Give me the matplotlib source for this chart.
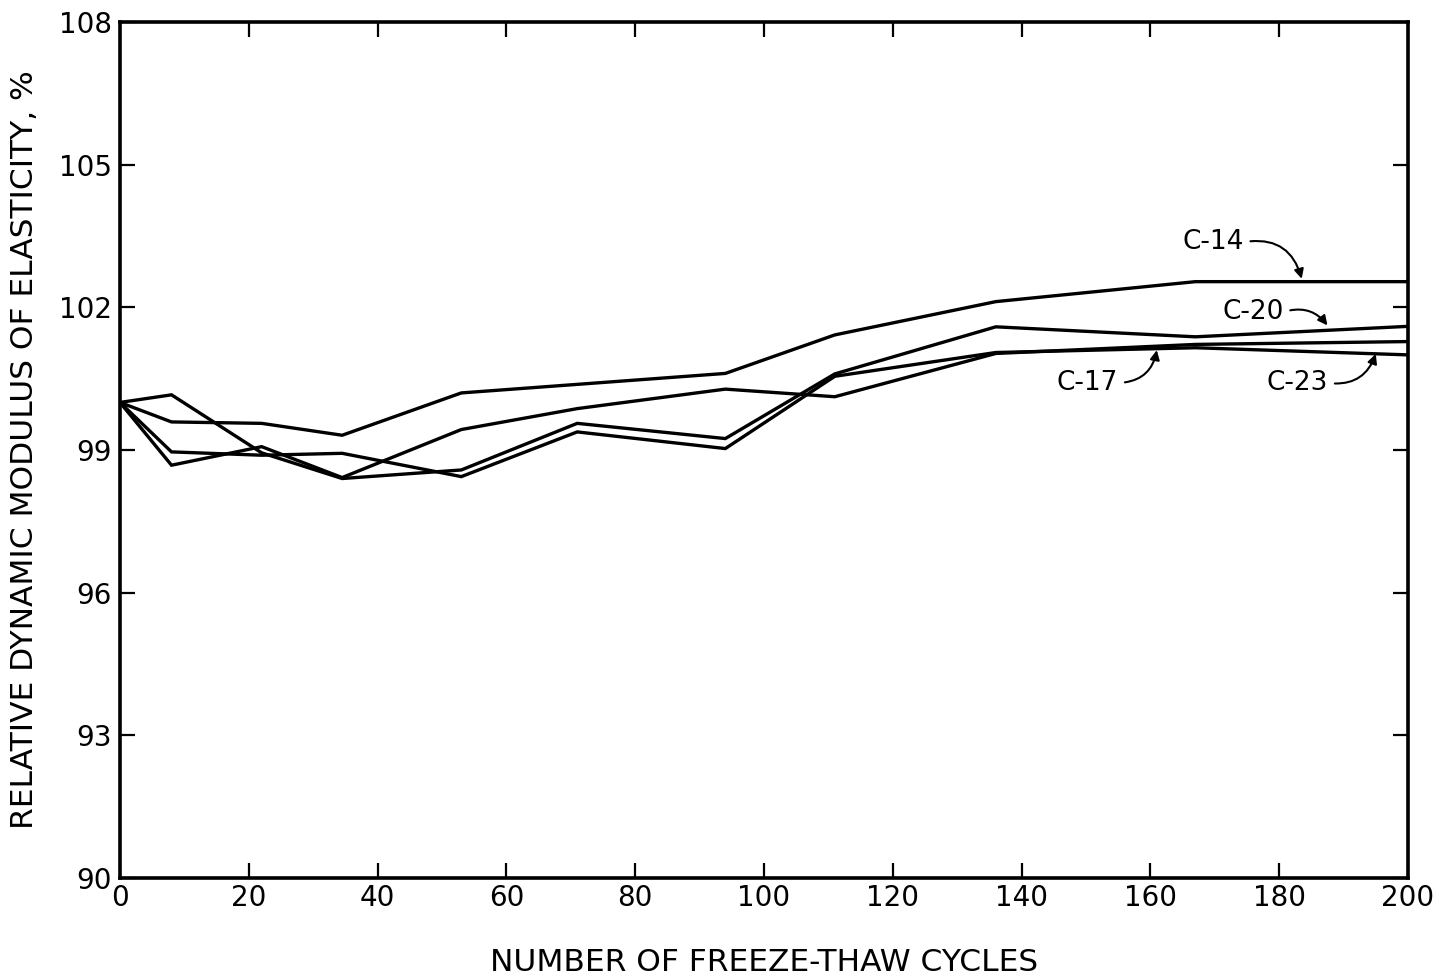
import matplotlib
matplotlib.use("Agg")
import matplotlib.pyplot as plt

cycles = [0, 8, 22, 34.5, 53, 71, 94, 111, 136, 167, 200]

c14 = [100.0, 99.59, 99.56, 99.31, 100.20, 100.38, 100.61, 101.42, 102.12, 102.54, 102.54]
c20 = [100.0, 100.16, 98.94, 98.40, 98.58, 99.56, 99.24, 100.60, 101.59, 101.38, 101.60]
c17 = [100.0, 98.68, 99.07, 98.42, 99.43, 99.87, 100.28, 100.12, 101.03, 101.22, 101.28]
c23 = [100.0, 98.96, 98.89, 98.93, 98.44, 99.38, 99.03, 100.55, 101.05, 101.15, 101.00]

x_ticks = [0, 20, 40, 60, 80, 100, 120, 140, 160, 180, 200]
y_ticks = [90, 93, 96, 99, 102, 105, 108]

plt.rcParams['font.family'] = ['DejaVu Sans']

fig = plt.figure(figsize=(14.37, 9.74), dpi=100)
ax = fig.add_axes([0.0835, 0.0986, 0.8963, 0.8788])

for ys in (c14, c20, c17, c23):
    ax.plot(cycles, ys, color='black', lw=2.4, solid_joinstyle='miter')

ax.set_xlim(0, 200)
ax.set_ylim(90, 108)
ax.set_xticks(x_ticks)
ax.set_yticks(y_ticks)
ax.tick_params(direction='in', length=11, width=1.6, top=True, right=True,
               labelsize=20)
ax.tick_params(axis='x', pad=4)
ax.tick_params(axis='y', pad=6)
for s in ax.spines.values():
    s.set_linewidth(2.6)

ax.set_xlabel("NUMBER OF FREEZE-THAW CYCLES", fontsize=22.5, labelpad=26)
ax.set_ylabel("RELATIVE DYNAMIC MODULUS OF ELASTICITY, %", fontsize=22.5, labelpad=14)

arrow = dict(arrowstyle='-|>', color='black', lw=1.5, mutation_scale=14,
             relpos=(1.0, 0.5), shrinkA=3, shrinkB=0)
ax.annotate("C-14", xy=(183.5, 102.6), xytext=(169.7, 103.37), fontsize=19,
            va='center', ha='center',
            arrowprops=dict(arrow, connectionstyle='arc3,rad=-0.45'))
ax.annotate("C-20", xy=(187.5, 101.62), xytext=(175.9, 101.9), fontsize=19,
            va='center', ha='center',
            arrowprops=dict(arrow, connectionstyle='arc3,rad=-0.35'))
ax.annotate("C-17", xy=(161, 101.1), xytext=(150.2, 100.41), fontsize=19,
            va='center', ha='center',
            arrowprops=dict(arrow, connectionstyle='arc3,rad=0.4'))
ax.annotate("C-23", xy=(195, 101.02), xytext=(182.8, 100.41), fontsize=19,
            va='center', ha='center',
            arrowprops=dict(arrow, connectionstyle='arc3,rad=0.4'))

fig.savefig("out.png", dpi=100)
